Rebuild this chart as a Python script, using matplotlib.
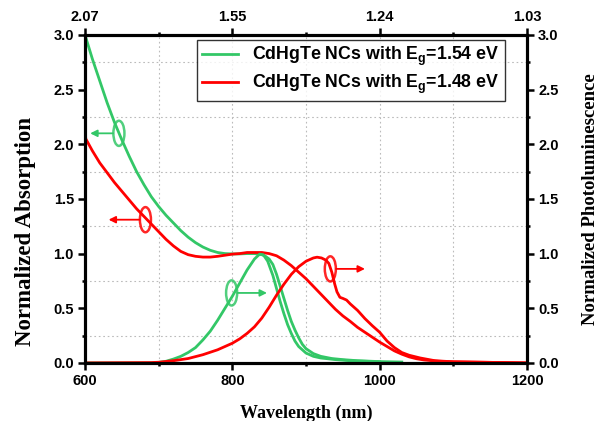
import matplotlib
matplotlib.use("Agg")
import matplotlib.pyplot as plt
from matplotlib.patches import Ellipse

# ---------------- data ----------------
abs_g_x = [600, 610, 620, 630, 640, 650, 660, 670, 680, 690, 700, 710, 720, 730, 740, 750, 760, 770, 780, 790, 800, 810, 820, 830, 840, 845, 850, 855, 860, 865, 870, 875, 880, 885, 890, 895, 900, 910, 920, 935, 950, 970, 1000, 1030]
abs_g_y = [3.00, 2.78, 2.58, 2.38, 2.20, 2.04, 1.89, 1.75, 1.63, 1.52, 1.43, 1.35, 1.28, 1.21, 1.15, 1.10, 1.06, 1.03, 1.01, 1.00, 0.997, 0.997, 1.00, 1.00, 0.99, 0.975, 0.95, 0.90, 0.81, 0.70, 0.59, 0.48, 0.38, 0.30, 0.23, 0.17, 0.13, 0.085, 0.06, 0.04, 0.03, 0.02, 0.012, 0.008]

abs_r_x = [600, 601, 610, 620, 630, 640, 650, 660, 670, 680, 690, 700, 710, 720, 730, 740, 750, 760, 770, 780, 790, 800, 810, 820, 830, 840, 850, 860, 870, 880, 890, 900, 910, 920, 930, 940, 950, 960, 970, 980, 990, 1000, 1010, 1020, 1030, 1040, 1050, 1060, 1080, 1100, 1150, 1200]
abs_r_y = [2.13, 2.05, 1.94, 1.83, 1.74, 1.65, 1.57, 1.49, 1.41, 1.34, 1.27, 1.20, 1.13, 1.07, 1.02, 0.99, 0.975, 0.968, 0.968, 0.975, 0.985, 0.995, 1.00, 1.01, 1.01, 1.01, 1.00, 0.98, 0.94, 0.89, 0.83, 0.77, 0.70, 0.63, 0.56, 0.49, 0.43, 0.38, 0.325, 0.28, 0.235, 0.19, 0.15, 0.11, 0.08, 0.055, 0.038, 0.027, 0.015, 0.01, 0.005, 0.0]

pl_g_x = [600, 690, 700, 710, 720, 730, 740, 750, 760, 770, 780, 790, 800, 810, 820, 830, 837, 842, 848, 855, 860, 865, 870, 875, 880, 885, 890, 900, 910, 920, 940, 960, 1000]
pl_g_y = [0.0, 0.0, 0.005, 0.015, 0.035, 0.06, 0.095, 0.14, 0.21, 0.29, 0.39, 0.50, 0.61, 0.73, 0.85, 0.95, 0.995, 0.99, 0.93, 0.80, 0.68, 0.56, 0.45, 0.35, 0.27, 0.20, 0.15, 0.09, 0.06, 0.045, 0.03, 0.02, 0.01]

pl_r_x = [600, 690, 700, 720, 740, 760, 780, 800, 810, 820, 830, 840, 850, 860, 870, 880, 890, 900, 910, 915, 921, 927, 931, 935, 939, 942, 946, 950, 955, 960, 965, 970, 980, 990, 1000, 1010, 1020, 1030, 1040, 1055, 1075, 1100, 1200]
pl_r_y = [0.0, 0.003, 0.006, 0.02, 0.04, 0.075, 0.12, 0.18, 0.22, 0.27, 0.33, 0.41, 0.51, 0.62, 0.72, 0.81, 0.88, 0.93, 0.96, 0.967, 0.96, 0.94, 0.91, 0.83, 0.72, 0.65, 0.60, 0.59, 0.575, 0.54, 0.51, 0.48, 0.405, 0.34, 0.28, 0.20, 0.14, 0.095, 0.07, 0.045, 0.02, 0.01, 0.0]

legend_labels = ["CdHgTe NCs with E$_\\mathbf{g}$=1.54 eV", "CdHgTe NCs with E$_\\mathbf{g}$=1.48 eV"]
bottom_ticks = [600, 800, 1000, 1200]
top_tick_labels = ["2.07", "1.55", "1.24", "1.03"]
y_ticks = [0.0, 0.5, 1.0, 1.5, 2.0, 2.5, 3.0]

GREEN = "#33c767"
RED = "#ff0000"

plt.rcParams['mathtext.fontset'] = 'custom'
plt.rcParams['mathtext.bf'] = 'Liberation Sans:bold'
plt.rcParams['mathtext.rm'] = 'Liberation Sans:bold'
plt.rcParams['mathtext.default'] = 'bf'

tick_font = dict(family="Liberation Sans", weight="bold", size=10.5)
label_font = dict(family="Liberation Serif", weight="bold", size=13)
LW = 2.0

fig = plt.figure(figsize=(6.03, 4.21), dpi=100)
ax = fig.add_axes([0.141, 0.138, 0.733, 0.779])

ax.plot(abs_g_x, abs_g_y, color=GREEN, lw=LW, label=legend_labels[0])
ax.plot(abs_r_x, abs_r_y, color=RED, lw=LW, label=legend_labels[1])

ax.set_xlim(600, 1200)
ax.set_ylim(0, 3.0)
ax.set_xticks(bottom_ticks)
ax.set_xticks([700, 900, 1100], minor=True)
ax.set_yticks(y_ticks)
ax.set_yticks([0.25, 0.75, 1.25, 1.75, 2.25, 2.75], minor=True)
ax.set_xticklabels([str(t) for t in bottom_ticks], **tick_font)
ax.set_yticklabels([f"{t:.1f}" for t in y_ticks], **tick_font)
ax.grid(which='both', axis='x', color='#bbbbbb', ls=(0, (1.5, 2.5)), lw=0.8)
ax.grid(which='minor', axis='y', color='#bbbbbb', ls=(0, (1.5, 2.5)), lw=0.8)
ax.set_axisbelow(True)
ax.set_xlabel("Wavelength (nm)", labelpad=12, **label_font)
ax.set_ylabel("Normalized Absorption", family="Liberation Serif", weight="bold", size=16.5)
ax.yaxis.set_label_coords(-0.112, 0.40)
ax.tick_params(which='major', length=5, width=1.8, direction='out', pad=3)
ax.tick_params(which='minor', length=2.5, width=1.8, direction='out')

# right axis (PL)
ax2 = ax.twinx()
ax2.plot(pl_g_x, pl_g_y, color=GREEN, lw=LW)
ax2.plot(pl_r_x, pl_r_y, color=RED, lw=LW)
ax2.set_ylim(0, 3.0)
ax2.set_yticks(y_ticks)
ax2.set_yticks([0.25, 0.75, 1.25, 1.75, 2.25, 2.75], minor=True)
ax2.set_yticklabels([f"{t:.1f}" for t in y_ticks], **tick_font)
ax2.set_ylabel("Normalized Photoluminescence", labelpad=17, family="Liberation Serif", weight="bold", size=13.5)
ax2.tick_params(which='major', length=5, width=1.8, direction='out', pad=3)
ax2.tick_params(which='minor', length=2.5, width=1.8, direction='out')

# top axis (energy)
ax3 = ax.twiny()
ax3.set_xlim(600, 1200)
ax3.set_xticks(bottom_ticks)
ax3.set_xticks([700, 900, 1100], minor=True)
ax3.set_xticklabels(top_tick_labels, **tick_font)
ax3.tick_params(which='major', length=5, width=1.8, direction='out', pad=3)
ax3.tick_params(which='minor', length=2.5, width=1.8, direction='out')

for a in (ax, ax2, ax3):
    for s in a.spines.values():
        s.set_linewidth(2.2)

# annotations: ellipses + arrows
def mark(axis, xc, yc, color, x_to):
    e = Ellipse((xc, yc), width=15, height=0.23, fill=False, edgecolor=color, lw=1.8, alpha=0.85)
    axis.add_patch(e)
    x_from = xc - 8 if x_to < xc else xc + 8
    axis.annotate("", xy=(x_to, yc), xytext=(x_from, yc),
                  arrowprops=dict(arrowstyle='-|>', color=color, lw=1.3, mutation_scale=10, shrinkA=0, shrinkB=0))

mark(ax, 646, 2.10, GREEN, 607)
mark(ax, 682, 1.31, RED, 632)
mark(ax2, 799, 0.64, GREEN, 847)
mark(ax2, 933, 0.86, RED, 980)

leg = ax.legend(loc='upper right', bbox_to_anchor=(0.950, 0.985), borderaxespad=0,
                prop=dict(family="Liberation Sans", weight="bold", size=12.8),
                frameon=True, fancybox=False, edgecolor='black', handlelength=2.0,
                handletextpad=0.8, borderpad=0.3, labelspacing=0.25)
leg.get_frame().set_linewidth(1.0)
leg.set_zorder(5)

fig.savefig("out.png", dpi=100)
